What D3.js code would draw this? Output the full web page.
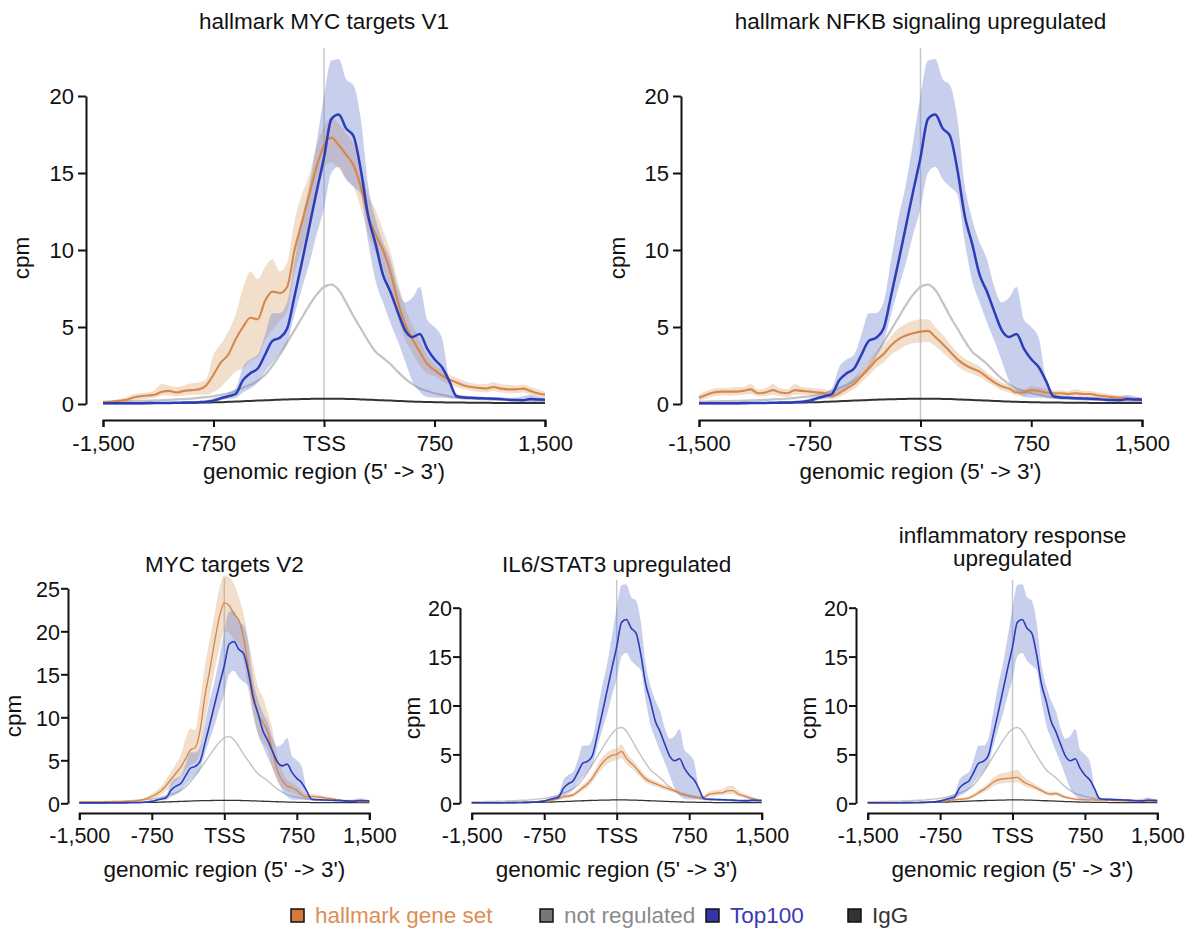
<!DOCTYPE html>
<meta charset="utf-8">
<script src="https://d3js.org/d3.v7.min.js"></script>
<style>
  body { margin: 0; background: #fff; }
  text { font-family: "Liberation Sans", Arial, sans-serif; fill: #111; }
</style>
<div id="chart"></div>
<script>

// genomic position of each bin (bp relative to TSS)
var pos = [-1500,-1450,-1400,-1350,-1300,-1250,-1200,-1150,-1100,-1050,
  -1000,-950,-900,-850,-800,-750,-700,-650,-600,-550,
  -500,-450,-400,-350,-300,-250,-200,-150,-100,-50,
  0,50,100,150,200,250,300,350,400,450,
  500,550,600,650,700,750,800,850,900,950,
  1000,1050,1100,1150,1200,1250,1300,1350,1400,1450,1500];

var xTicks = [-1500, -750, 0, 750, 1500];

// Top100 (same in every panel)
var top100 = [0.05,0.05,0.05,0.05,0.05,0.05,0.06,0.06,0.07,0.07,
  0.08,0.09,0.1,0.12,0.15,0.22,0.37,0.5,0.65,1.55,
  2.0,2.3,3.2,4.1,4.3,4.9,7.0,9.2,11.5,13.8,
  16.0,18.5,18.8,17.9,17.4,15.2,12.2,10.4,8.4,7.3,
  6.0,4.8,4.35,4.55,3.6,2.9,2.4,1.5,0.5,0.42,
  0.4,0.38,0.36,0.34,0.32,0.28,0.26,0.25,0.32,0.3,0.28];
var top100Lo = [0.02,0.02,0.02,0.02,0.02,0.02,0.02,0.02,0.03,0.03,
  0.03,0.04,0.05,0.06,0.08,0.12,0.25,0.32,0.4,0.75,
  1.0,1.4,2.1,2.7,3.3,4.0,5.8,7.5,9.1,11.0,
  12.7,15.0,15.4,14.6,14.1,13.6,10.5,8.0,6.6,5.3,
  4.1,2.8,1.5,0.8,0.45,0.4,0.4,0.38,0.35,0.3,
  0.3,0.28,0.26,0.24,0.22,0.18,0.16,0.15,0.15,0.15,0.15];
var top100Hi = [0.1,0.1,0.1,0.1,0.1,0.1,0.12,0.12,0.13,0.13,
  0.14,0.15,0.17,0.2,0.25,0.35,0.5,0.7,1.0,2.4,
  2.9,3.2,4.5,5.9,5.9,6.6,9.3,12.0,14.2,17.0,
  20.0,22.3,22.4,21.1,20.7,18.5,14.2,12.0,10.5,9.4,
  7.6,6.6,6.9,7.6,5.5,5.0,4.3,1.6,0.65,0.55,
  0.5,0.48,0.46,0.44,0.42,0.4,0.42,0.5,0.6,0.5,0.4];

// not regulated
var notReg = [0.15,0.16,0.17,0.18,0.19,0.2,0.22,0.23,0.25,0.27,
  0.3,0.32,0.35,0.4,0.45,0.5,0.6,0.7,0.85,1.05,
  1.25,1.5,1.9,2.5,3.2,4.0,4.8,5.6,6.4,7.1,
  7.6,7.75,7.4,6.6,5.7,4.9,4.1,3.4,3.0,2.6,
  2.1,1.65,1.3,1.0,0.85,0.7,0.6,0.5,0.42,0.38,
  0.35,0.33,0.31,0.29,0.27,0.26,0.25,0.24,0.23,0.22,0.22];

// IgG
var igg = [0.05,0.05,0.05,0.05,0.05,0.05,0.05,0.06,0.06,0.06,
  0.07,0.07,0.08,0.09,0.1,0.11,0.12,0.14,0.16,0.18,
  0.2,0.22,0.24,0.26,0.28,0.3,0.31,0.32,0.33,0.34,
  0.34,0.34,0.34,0.33,0.32,0.3,0.28,0.26,0.24,0.22,
  0.2,0.18,0.16,0.14,0.13,0.12,0.11,0.1,0.09,0.09,
  0.08,0.08,0.08,0.07,0.07,0.07,0.07,0.07,0.07,0.07,0.07];

// hallmark MYC targets V1
var myc1 = [0.1,0.15,0.2,0.25,0.4,0.5,0.55,0.6,0.8,0.85,
  0.75,0.85,0.9,0.95,1.2,1.9,2.7,3.2,4.2,5.0,
  5.6,5.5,6.7,7.3,7.2,7.6,10.0,11.8,13.6,15.4,
  16.8,17.3,16.8,16.2,15.5,14.1,12.2,11.0,10.0,8.6,
  6.7,5.2,4.2,3.4,2.6,2.2,1.85,1.6,1.4,1.2,
  1.1,1.05,1.0,1.1,1.0,0.95,0.95,1.0,0.85,0.7,0.6];
var myc1Lo = [0.05,0.1,0.12,0.15,0.25,0.3,0.35,0.4,0.55,0.55,
  0.5,0.55,0.6,0.6,0.6,0.8,1.1,1.6,2.1,2.3,
  2.8,3.0,4.1,4.8,5.4,6.0,8.5,10.0,11.6,13.8,
  15.3,15.7,15.3,14.6,14.1,12.7,11.0,9.8,8.8,7.3,
  5.6,4.2,3.3,2.5,2.0,1.8,1.5,1.3,1.1,0.95,
  0.85,0.8,0.75,0.85,0.75,0.7,0.7,0.75,0.6,0.5,0.45];
var myc1Hi = [0.15,0.2,0.3,0.4,0.6,0.7,0.75,0.9,1.3,1.2,
  1.1,1.2,1.35,1.4,1.6,3.2,3.9,4.7,5.8,7.5,
  8.6,8.1,8.9,9.4,8.6,9.2,11.9,13.6,14.9,16.8,
  18.0,18.6,18.2,17.6,16.9,15.5,13.6,12.6,11.3,9.9,
  8.0,6.3,5.1,4.2,3.2,2.6,2.2,1.9,1.7,1.5,
  1.35,1.3,1.3,1.4,1.3,1.25,1.2,1.25,1.1,0.95,0.8];

// hallmark NFKB signaling upregulated
var nfkb = [0.4,0.6,0.75,0.8,0.8,0.8,0.85,0.95,0.7,0.75,
  0.9,0.75,0.7,0.9,0.85,0.8,0.75,0.7,0.5,0.7,
  1.0,1.3,1.8,2.3,2.85,3.25,3.8,4.2,4.45,4.6,
  4.7,4.75,4.35,3.9,3.4,2.9,2.55,2.3,2.1,1.75,
  1.4,1.15,1.0,0.75,0.75,0.9,0.85,0.75,0.7,0.7,
  0.65,0.7,0.65,0.65,0.55,0.5,0.45,0.4,0.35,0.3,0.3];
var nfkbLo = [0.2,0.35,0.5,0.55,0.55,0.55,0.6,0.65,0.5,0.5,
  0.6,0.5,0.45,0.6,0.6,0.55,0.5,0.45,0.3,0.45,
  0.7,0.95,1.4,1.85,2.35,2.7,3.2,3.5,3.8,3.95,
  4.0,4.05,3.75,3.35,2.9,2.45,2.15,1.95,1.75,1.45,
  1.15,0.9,0.75,0.55,0.55,0.65,0.6,0.5,0.5,0.5,
  0.45,0.5,0.45,0.45,0.4,0.35,0.3,0.28,0.22,0.2,0.2];
var nfkbHi = [0.6,0.85,1.0,1.05,1.05,1.1,1.1,1.3,0.95,1.0,
  1.3,1.0,0.95,1.3,1.1,1.05,1.0,0.95,0.75,1.0,
  1.3,1.7,2.2,2.8,3.4,3.8,4.4,4.9,5.2,5.4,
  5.5,5.5,5.0,4.5,3.9,3.35,2.95,2.7,2.45,2.05,
  1.7,1.4,1.25,0.95,0.95,1.15,1.1,1.0,0.9,0.9,
  0.85,0.95,0.85,0.85,0.75,0.7,0.6,0.55,0.5,0.45,0.4];

// MYC targets V2
var myc2 = [0.15,0.15,0.15,0.15,0.16,0.17,0.18,0.19,0.2,0.2,
  0.22,0.25,0.3,0.4,0.55,0.8,1.1,1.5,2.1,2.8,
  3.5,4.2,5.2,6.2,6.5,8.5,12.5,15.5,18.8,21.7,
  23.3,23.0,22.0,21.3,19.2,15.8,12.8,10.3,9.4,8.3,
  6.0,3.8,2.7,2.0,1.8,1.5,1.0,0.75,0.8,0.75,
  0.7,0.6,0.55,0.45,0.35,0.3,0.25,0.22,0.2,0.2,0.2];
var myc2Lo = [0.1,0.1,0.1,0.1,0.1,0.1,0.1,0.1,0.12,0.12,
  0.13,0.15,0.18,0.25,0.35,0.5,0.7,1.0,1.5,2.0,
  2.6,3.1,3.8,4.5,4.8,6.0,9.5,12.5,15.5,18.0,
  20.0,19.8,19.0,18.5,16.5,13.0,10.0,8.0,7.0,6.2,
  4.0,2.5,1.8,1.4,1.2,1.0,0.7,0.5,0.55,0.5,
  0.45,0.4,0.35,0.3,0.25,0.2,0.15,0.13,0.12,0.12,0.12];
var myc2Hi = [0.2,0.2,0.2,0.2,0.22,0.24,0.26,0.28,0.3,0.3,
  0.32,0.36,0.42,0.55,0.75,1.1,1.5,2.0,2.8,3.7,
  4.6,5.6,7.5,8.7,8.5,12.0,16.0,19.0,22.0,25.0,
  26.5,26.3,25.5,24.0,22.0,19.0,16.0,13.5,12.3,10.5,
  8.5,5.5,3.8,2.7,2.4,2.0,1.4,1.05,1.1,1.0,
  0.95,0.85,0.75,0.6,0.5,0.42,0.35,0.3,0.28,0.28,0.28];

// IL6/STAT3 upregulated
var il6 = [0.05,0.05,0.05,0.05,0.05,0.05,0.06,0.06,0.07,0.08,
  0.1,0.12,0.14,0.16,0.2,0.25,0.3,0.35,0.5,0.65,
  0.75,0.85,1.2,1.6,2.0,2.6,3.4,4.1,4.6,4.9,
  5.0,5.3,4.6,4.1,3.6,3.0,2.5,2.2,2.0,1.8,
  1.6,1.45,1.25,1.05,0.9,0.78,0.68,0.6,0.62,0.9,
  1.0,1.05,1.1,1.3,1.3,1.0,0.8,0.65,0.5,0.35,0.3];
var il6Lo = [0.02,0.02,0.02,0.02,0.02,0.02,0.03,0.03,0.04,0.05,
  0.06,0.07,0.08,0.1,0.12,0.15,0.2,0.22,0.35,0.45,
  0.55,0.65,0.95,1.3,1.65,2.2,2.9,3.5,4.0,4.3,
  4.4,4.6,4.0,3.6,3.15,2.6,2.15,1.9,1.7,1.55,
  1.35,1.2,1.05,0.85,0.7,0.6,0.5,0.45,0.45,0.65,
  0.75,0.8,0.85,0.95,0.95,0.75,0.6,0.5,0.38,0.25,0.22];
var il6Hi = [0.08,0.08,0.08,0.08,0.08,0.08,0.09,0.09,0.1,0.11,
  0.14,0.17,0.2,0.22,0.28,0.35,0.4,0.48,0.65,0.85,
  0.95,1.05,1.45,1.9,2.35,3.0,3.9,4.7,5.2,5.5,
  5.6,6.0,5.2,4.6,4.05,3.4,2.85,2.5,2.3,2.05,
  1.85,1.7,1.45,1.25,1.1,0.95,0.85,0.75,0.8,1.15,
  1.3,1.35,1.45,1.75,1.8,1.35,1.05,0.85,0.65,0.45,0.38];

// inflammatory response upregulated
var infl = [0.03,0.03,0.03,0.03,0.03,0.03,0.04,0.04,0.05,0.05,
  0.06,0.08,0.1,0.12,0.15,0.2,0.25,0.3,0.35,0.4,
  0.45,0.55,0.8,1.1,1.4,1.75,2.15,2.4,2.5,2.55,
  2.6,2.65,2.3,2.0,1.8,1.55,1.3,1.05,0.95,1.0,
  0.8,0.62,0.5,0.42,0.38,0.36,0.35,0.34,0.33,0.32,
  0.3,0.29,0.28,0.27,0.26,0.25,0.24,0.23,0.22,0.22,0.22];
var inflLo = [0.01,0.01,0.01,0.01,0.01,0.01,0.02,0.02,0.02,0.02,
  0.03,0.04,0.05,0.06,0.08,0.1,0.14,0.18,0.22,0.26,
  0.3,0.38,0.6,0.85,1.1,1.4,1.75,1.95,2.05,2.1,
  2.1,2.15,1.9,1.65,1.5,1.3,1.05,0.85,0.75,0.8,
  0.62,0.48,0.38,0.3,0.27,0.26,0.25,0.24,0.23,0.22,
  0.2,0.19,0.18,0.17,0.16,0.15,0.14,0.13,0.12,0.12,0.12];
var inflHi = [0.05,0.05,0.05,0.05,0.05,0.05,0.06,0.06,0.08,0.08,
  0.09,0.12,0.15,0.18,0.22,0.3,0.36,0.42,0.48,0.54,
  0.6,0.72,1.0,1.35,1.7,2.1,2.6,2.95,3.1,3.2,
  3.35,3.4,2.9,2.45,2.15,1.85,1.55,1.25,1.15,1.2,
  1.0,0.78,0.64,0.55,0.5,0.47,0.45,0.44,0.43,0.42,
  0.4,0.39,0.38,0.37,0.36,0.35,0.34,0.33,0.32,0.32,0.32];

var legendNames = ["hallmark gene set", "not regulated", "Top100", "IgG"];

// layout of the five panels
var panels = [
  { title: ["hallmark MYC targets V1"], mean: myc1, lo: myc1Lo, hi: myc1Hi,
    x0: 103, x1: 545, yAxisX: 86, yBot: 404, yTop: 96, yMax: 20, yTicks: [0,5,10,15,20],
    axisY: 420, tssTop: 48, titleY: [29], tickLabY: 451, xlabY: 479, cpmX: 29, cpmY: 258,
    fs: 22.5, tfs: 22, tick: 8, labGap: 12, lw: 2.5 },
  { title: ["hallmark NFKB signaling upregulated"], mean: nfkb, lo: nfkbLo, hi: nfkbHi,
    x0: 699, x1: 1142, yAxisX: 681, yBot: 404, yTop: 96, yMax: 20, yTicks: [0,5,10,15,20],
    axisY: 420, tssTop: 48, titleY: [29], tickLabY: 451, xlabY: 479, cpmX: 625, cpmY: 258,
    fs: 22.5, tfs: 22, tick: 8, labGap: 12, lw: 2.5 },
  { title: ["MYC targets V2"], mean: myc2, lo: myc2Lo, hi: myc2Hi,
    x0: 79.3, x1: 369.3, yAxisX: 68, yBot: 803.3, yTop: 588.3, yMax: 25, yTicks: [0,5,10,15,20,25],
    axisY: 813, tssTop: 578, titleY: [572], tickLabY: 843, xlabY: 877, cpmX: 21, cpmY: 716,
    fs: 22.5, tfs: 21.5, tick: 7, labGap: 8, lw: 1.6 },
  { title: ["IL6/STAT3 upregulated"], mean: il6, lo: il6Lo, hi: il6Hi,
    x0: 471.7, x1: 761.7, yAxisX: 460, yBot: 803.3, yTop: 607.7, yMax: 20, yTicks: [0,5,10,15,20],
    axisY: 813, tssTop: 580, titleY: [572], tickLabY: 843, xlabY: 877, cpmX: 420, cpmY: 718,
    fs: 22.5, tfs: 21.5, tick: 7, labGap: 8, lw: 1.6 },
  { title: ["inflammatory response", "upregulated"], mean: infl, lo: inflLo, hi: inflHi,
    x0: 867.7, x1: 1157.3, yAxisX: 856, yBot: 803.3, yTop: 607.7, yMax: 20, yTicks: [0,5,10,15,20],
    axisY: 813, tssTop: 580, titleY: [543, 566], tickLabY: 843, xlabY: 877, cpmX: 816, cpmY: 718,
    fs: 22.5, tfs: 21.5, tick: 7, labGap: 8, lw: 1.6 }
];

var fmt = d3.formatLocale({decimal: ".", thousands: ",", grouping: [3], currency: ["", ""], minus: "-"}).format(",");

var svg = d3.select("#chart").append("svg")
    .attr("width", 1192)
    .attr("height", 930);

panels.forEach(function(p) {
  var x = d3.scaleLinear().domain([-1500, 1500]).range([p.x0, p.x1]);
  var y = d3.scaleLinear().domain([0, p.yMax]).range([p.yBot, p.yTop]);
  var g = svg.append("g");

  var line = function(arr) {
    return d3.line().curve(d3.curveMonotoneX)
      .x(function(d, i) { return x(pos[i]); }).y(function(d) { return y(d); })(arr);
  };
  var band = function(lo, hi) {
    return d3.area().curve(d3.curveMonotoneX)
      .x(function(d, i) { return x(pos[i]); })
      .y0(function(d, i) { return y(lo[i]); })
      .y1(function(d, i) { return y(hi[i]); })(pos);
  };

  // TSS marker
  g.append("line")
    .attr("x1", x(0)).attr("x2", x(0))
    .attr("y1", p.tssTop).attr("y2", p.axisY)
    .attr("stroke", "#c8c8c8").attr("stroke-width", 1.5);

  g.append("path").attr("d", line(notReg))
    .attr("fill", "none").attr("stroke", "#c4c4c4").attr("stroke-width", p.lw * 0.9);
  g.append("path").attr("d", line(igg))
    .attr("fill", "none").attr("stroke", "#333").attr("stroke-width", p.lw * 0.8);

  // confidence bands
  g.append("path").attr("d", band(p.lo, p.hi))
    .attr("fill", "#d4975c").attr("fill-opacity", 0.32);
  g.append("path").attr("d", band(top100Lo, top100Hi))
    .attr("fill", "#6f80cc").attr("fill-opacity", 0.38);

  g.append("path").attr("d", line(p.mean))
    .attr("fill", "none").attr("stroke", "#d8874b").attr("stroke-width", p.lw * 0.85);
  g.append("path").attr("d", line(top100))
    .attr("fill", "none").attr("stroke", "#2b3db8").attr("stroke-width", p.lw);

  // axes
  var xa = g.append("g")
    .attr("transform", "translate(0," + p.axisY + ")")
    .call(d3.axisBottom(x).tickValues(xTicks).tickSize(7)
      .tickFormat(function(d) { return d === 0 ? "TSS" : fmt(d); }));
  var ya = g.append("g")
    .attr("transform", "translate(" + p.yAxisX + ",0)")
    .call(d3.axisLeft(y).tickValues(p.yTicks).tickSize(p.tick).tickSizeOuter(0));
  [xa, ya].forEach(function(a) {
    a.selectAll("path, line").attr("stroke", "#111").attr("stroke-width", 2);
    a.selectAll("text").style("font-size", p.tfs + "px").attr("fill", "#111");
  });
  xa.selectAll("text").attr("y", null).attr("dy", null)
    .attr("transform", "translate(0," + (p.tickLabY - p.axisY) + ")");
  ya.selectAll("text").attr("x", -p.labGap).attr("dy", "0.36em");

  // titles and labels
  p.title.forEach(function(t, i) {
    g.append("text").attr("x", x(0)).attr("y", p.titleY[i])
      .attr("text-anchor", "middle").style("font-size", p.fs + "px").text(t);
  });
  g.append("text").attr("x", x(0)).attr("y", p.xlabY)
    .attr("text-anchor", "middle").style("font-size", p.fs + "px")
    .text("genomic region (5' -> 3')");
  g.append("text")
    .attr("transform", "translate(" + p.cpmX + "," + p.cpmY + ") rotate(-90)")
    .attr("text-anchor", "middle").style("font-size", p.fs + "px").text("cpm");
});

// legend
var legFill = ["#d8773a", "#777777", "#3535a8", "#333333"];
var legText = ["#de8d55", "#8a8a8a", "#3b3bb0", "#333333"];
var legX = [291, 540, 706, 848];
var leg = svg.append("g").selectAll("g")
  .data(legendNames)
  .enter()
  .append("g")
    .attr("transform", function(d, i) { return "translate(" + legX[i] + ",909)"; });
leg.append("rect")
  .attr("width", 13).attr("height", 13)
  .attr("fill", function(d, i) { return legFill[i]; })
  .attr("stroke", "#111").attr("stroke-width", 1.5);
leg.append("text")
  .attr("x", 24).attr("y", 14)
  .style("font-size", "22.5px")
  .style("fill", function(d, i) { return legText[i]; })
  .text(function(d) { return d; });

</script>
